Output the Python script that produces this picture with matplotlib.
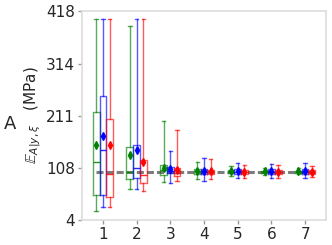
import numpy as np
import matplotlib
matplotlib.use("Agg")
import matplotlib.pyplot as plt

# groups on x axis
groups = [1, 2, 3, 4, 5, 6, 7]
ref_value = 100

# per-series box statistics (MPa)
green_whislo = [22, 66, 80, 85, 92, 94, 95]
green_q1 = [54, 86, 94, 96, 97, 98, 98]
green_med = [118, 100, 103, 101, 100, 100, 100]
green_q3 = [217, 149, 113, 106, 103, 102, 102]
green_whishi = [402, 388, 200, 119, 111, 108, 108]
green_mean = [153, 132, 107, 102, 101, 101, 101]

blue_whislo = [30, 66, 78, 82, 87, 88, 87]
blue_q1 = [54, 87, 98, 95, 96, 96, 96]
blue_med = [143, 107, 101, 100, 100, 100, 100]
blue_q3 = [249, 153, 110, 106, 105, 105, 105]
blue_whishi = [402, 402, 140, 127, 117, 115, 117]
blue_mean = [170, 143, 105, 101, 101, 101, 101]

red_whislo = [30, 62, 82, 85, 88, 88, 89]
red_q1 = [50, 77, 92, 95, 96, 96, 96]
red_med = [95, 93, 98, 100, 100, 100, 100]
red_q3 = [205, 122, 108, 104, 104, 104, 104]
red_whishi = [402, 402, 183, 125, 113, 112, 111]
red_mean = [153, 119, 103, 101, 100, 100, 100]

ytick_vals = [4, 108, 211, 314, 418]

series = [
	("green", -0.2, green_whislo, green_q1, green_med, green_q3, green_whishi, green_mean),
	("blue", 0.0, blue_whislo, blue_q1, blue_med, blue_q3, blue_whishi, blue_mean),
	("red", 0.2, red_whislo, red_q1, red_med, red_q3, red_whishi, red_mean),
]

fig = plt.figure(figsize=(3.32, 2.45), dpi=100)
ax = fig.add_axes([0.247, 0.102, 0.735, 0.853])

#Reference line
ax.hlines(ref_value, 0.8, 7.3, colors="#6e6e6e", linestyles=(0, (2.3, 1)), linewidth=2.2, alpha=0.9, zorder=1)

for color, off, wlo, q1, med, q3, whi, mean in series:
	stats = []
	for i in range(len(groups)):
		stats.append(dict(whislo=wlo[i], q1=q1[i], med=med[i], q3=q3[i],
			whishi=whi[i], mean=mean[i], fliers=[]))
	pos = [g + off for g in groups]
	ax.bxp(stats, positions=pos, widths=0.2, capwidths=0.1, showmeans=True,
		manage_ticks=False, patch_artist=False,
		boxprops=dict(color=color, alpha=0.65, linewidth=1.0),
		whiskerprops=dict(color=color, alpha=0.65, linewidth=1.0),
		capprops=dict(color=color, alpha=0.65, linewidth=1.0),
		medianprops=dict(color=color, alpha=0.85, linewidth=1.0),
		meanprops=dict(marker="d", markerfacecolor=color, markeredgecolor=color, markersize=4.2))

ax.set_xlim(0.38, 7.62)
ax.set_ylim(4, 418)
ax.set_xticks(groups)
ax.set_xticklabels([str(g) for g in groups], fontsize=11, color="#262626")
ax.set_yticks(ytick_vals)
ax.set_yticklabels([str(v) for v in ytick_vals], fontsize=11, color="#262626")
ax.tick_params(length=3, width=1, color="#999999", pad=2)
for s in ax.spines.values():
	s.set_color("#dddddd")
	s.set_linewidth(1.2)

ax.set_ylabel(r"$\mathbb{E}_{A|y,\xi}$   (MPa)", fontsize=11, color="#262626", labelpad=2)
fig.text(0.03, 0.495, "A", fontsize=13, color="#262626", va="center", ha="center")

fig.savefig("out.png", dpi=100)
